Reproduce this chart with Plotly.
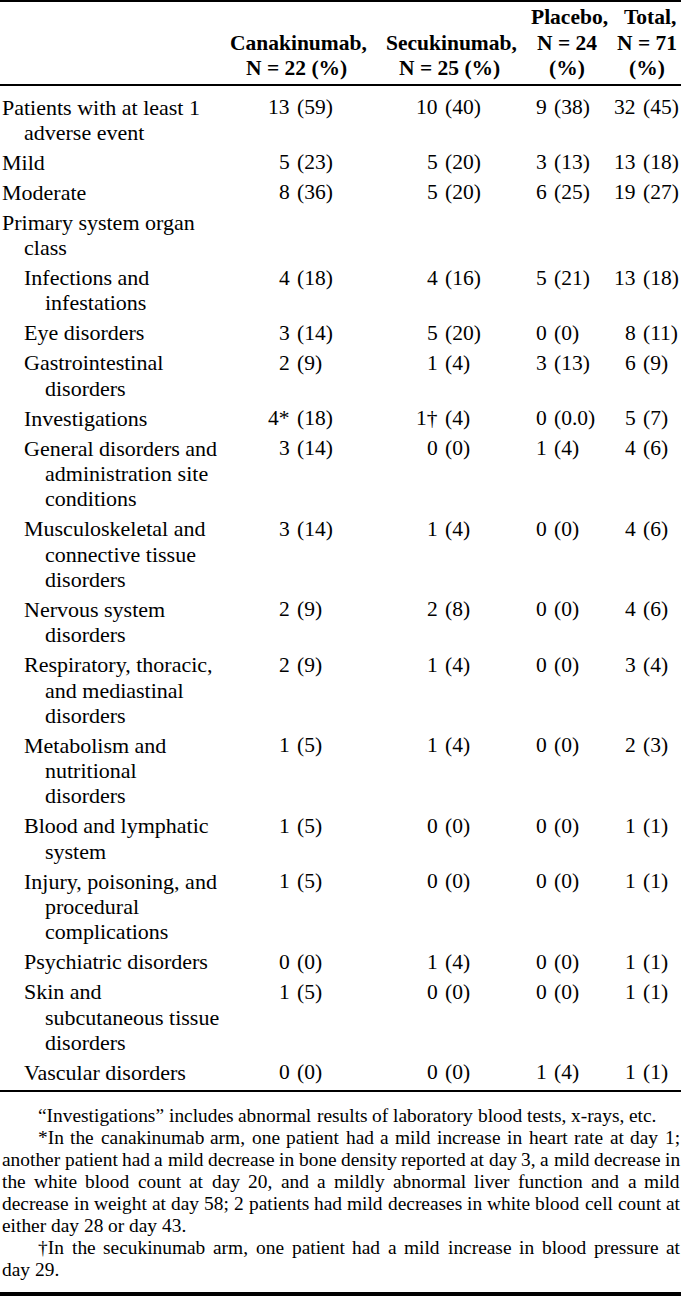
import plotly.graph_objects as go

# ---------------- data ----------------
header_lines = [
    ["Canakinumab,", "N = 22 (%)"],
    ["Secukinumab,", "N = 25 (%)"],
    ["Placebo,", "N = 24", "(%)"],
    ["Total,", "N = 71", "(%)"],
]

row_labels = [
    ["Patients with at least 1", "adverse event"],
    ["Mild"],
    ["Moderate"],
    ["Primary system organ", "class"],
    ["Infections and", "infestations"],
    ["Eye disorders"],
    ["Gastrointestinal", "disorders"],
    ["Investigations"],
    ["General disorders and", "administration site", "conditions"],
    ["Musculoskeletal and", "connective tissue", "disorders"],
    ["Nervous system", "disorders"],
    ["Respiratory, thoracic,", "and mediastinal", "disorders"],
    ["Metabolism and", "nutritional", "disorders"],
    ["Blood and lymphatic", "system"],
    ["Injury, poisoning, and", "procedural", "complications"],
    ["Psychiatric disorders"],
    ["Skin and", "subcutaneous tissue", "disorders"],
    ["Vascular disorders"],
]
row_levels = [0, 0, 0, 0, 1, 1, 1, 1, 1, 1, 1, 1, 1, 1, 1, 1, 1, 1]

canakinumab_n   = ["13", "5", "8", None, "4", "3", "2", "4*", "3", "3", "2", "2", "1", "1", "1", "0", "1", "0"]
canakinumab_pct = ["59", "23", "36", None, "18", "14", "9", "18", "14", "14", "9", "9", "5", "5", "5", "0", "5", "0"]
secukinumab_n   = ["10", "5", "5", None, "4", "5", "1", "1†", "0", "1", "2", "1", "1", "0", "0", "1", "0", "0"]
secukinumab_pct = ["40", "20", "20", None, "16", "20", "4", "4", "0", "4", "8", "4", "4", "0", "0", "4", "0", "0"]
placebo_n       = ["9", "3", "6", None, "5", "0", "3", "0", "1", "0", "0", "0", "0", "0", "0", "0", "0", "1"]
placebo_pct     = ["38", "13", "25", None, "21", "0", "13", "0.0", "4", "0", "0", "0", "0", "0", "0", "0", "0", "4"]
total_n         = ["32", "13", "19", None, "13", "8", "6", "5", "4", "4", "4", "3", "2", "1", "1", "1", "1", "1"]
total_pct       = ["45", "18", "27", None, "18", "11", "9", "7", "6", "6", "6", "4", "3", "1", "1", "1", "1", "1"]

# footnote lines: (text, indented, justified)
footnote_lines = [
    ("“Investigations” includes abnormal results of laboratory blood tests, x-rays, etc.", True, False),
    ("*In the canakinumab arm, one patient had a mild increase in heart rate at day 1;", True, True),
    ("another patient had a mild decrease in bone density reported at day 3, a mild decrease in", False, True),
    ("the white blood count at day 20, and a mildly abnormal liver function and a mild", False, True),
    ("decrease in weight at day 58; 2 patients had mild decreases in white blood cell count at", False, True),
    ("either day 28 or day 43.", False, False),
    ("†In the secukinumab arm, one patient had a mild increase in blood pressure at", True, True),
    ("day 29.", False, False),
]

# ---------------- layout constants ----------------
W, H = 681, 1298
FONT = "Liberation Serif, Times New Roman, serif"
LABEL = 22
NUM = 21.5
HEAD = 21.5
FOOT = 19.4
INK = "#000000"

header_centers = [296, 449, 566.5, 647]
count_right = [291, 438.5, 548, 637]
pct_gap = 5.0
header_line_y = [17, 42.5, 68]

first_row_y = 107
line_pitch = 25.3
row_gap = 30
indent = 21.5
foot_y0 = 1115
foot_pitch = 22.1
foot_indent = 37
foot_right = 679

# Times metrics (per 1000 em) for justification
TIMES = {' ': 250, ',': 250, '.': 250, ';': 278, ':': 278, '-': 333, '*': 500, '†': 500,
         '“': 444, '”': 444, '(': 333, ')': 333, '%': 833}
for c, w in zip("abcdefghijklmnopqrstuvwxyz",
                [444, 500, 444, 500, 444, 333, 500, 500, 278, 278, 500, 278, 778, 500, 500, 500,
                 500, 333, 389, 278, 500, 500, 722, 500, 500, 444]):
    TIMES[c] = w
for c, w in zip("ABCDEFGHIJKLMNOPQRSTUVWXYZ",
                [722, 667, 667, 722, 611, 556, 722, 722, 333, 389, 722, 611, 889, 722, 722, 556,
                 722, 667, 556, 611, 722, 722, 944, 722, 722, 611]):
    TIMES[c] = w
for c in "0123456789":
    TIMES[c] = 500


def text_width(s, size):
    return sum(TIMES.get(ch, 500) for ch in s) * size / 1000.0


annotations = []


def add_text(x, y, text, anchor="left", size=LABEL, bold=False):
    annotations.append(dict(
        x=x, y=y, xref="x", yref="y", text=("<b>%s</b>" % text) if bold else text,
        showarrow=False, xanchor=anchor, yanchor="middle", borderpad=0,
        font=dict(family=FONT, size=size, color=INK),
    ))


# header
for ci, lines in enumerate(header_lines):
    start = len(header_line_y) - len(lines)
    for li, line in enumerate(lines):
        shift = 2.7 if line.endswith(",") else 0
        add_text(header_centers[ci] + shift, header_line_y[start + li], line, "center", HEAD, True)

# body
series = [(canakinumab_n, canakinumab_pct), (secukinumab_n, secukinumab_pct),
          (placebo_n, placebo_pct), (total_n, total_pct)]
y = first_row_y
for ri, lines in enumerate(row_labels):
    lvl = row_levels[ri]
    for li, line in enumerate(lines):
        x = 1 + indent * lvl + (indent if li > 0 else 0)
        add_text(x, y + li * line_pitch, line, "left", LABEL)
    for ci, (ns, ps) in enumerate(series):
        if ns[ri] is None:
            continue
        add_text(count_right[ci], y, ns[ri], "right", NUM)
        add_text(count_right[ci] + pct_gap, y, "(%s)" % ps[ri], "left", NUM)
    y += (len(lines) - 1) * line_pitch + row_gap

# footnotes (justified word by word)
for fi, (line, indented, justified) in enumerate(footnote_lines):
    fy = foot_y0 + fi * foot_pitch
    x0 = foot_indent if indented else 1
    words = line.split(" ")
    widths = [text_width(w, FOOT) for w in words]
    if justified and len(words) > 1:
        gap = (foot_right - x0 - sum(widths)) / (len(words) - 1)
    else:
        gap = text_width(" ", FOOT)
    x = x0
    for w, wd in zip(words, widths):
        add_text(x, fy, w, "left", FOOT)
        x += wd + gap

# rules
rules = [(1, 2), (85, 2), (1091, 2), (1294, 4)]
shapes = [dict(type="line", xref="x", yref="y", x0=0, x1=W, y0=ry, y1=ry,
               line=dict(color=INK, width=rw)) for ry, rw in rules]

fig = go.Figure()
fig.update_layout(
    width=W, height=H, margin=dict(l=0, r=0, t=0, b=0),
    paper_bgcolor="white", plot_bgcolor="white",
    xaxis=dict(range=[0, W], visible=False, fixedrange=True),
    yaxis=dict(range=[H, 0], visible=False, fixedrange=True),
    annotations=annotations, shapes=shapes, showlegend=False,
)
fig.write_html(
    "out.html",
    config={"displayModeBar": False},
    post_script="document.body.style.margin='0';document.body.style.overflow='hidden';",
)
